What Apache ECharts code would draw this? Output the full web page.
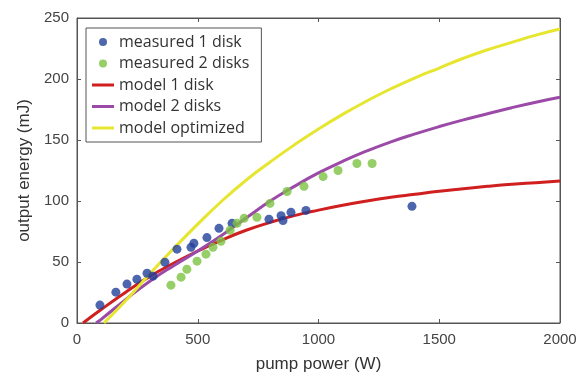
<!DOCTYPE html>
<html><head><meta charset="utf-8">
<script src="https://cdn.jsdelivr.net/npm/echarts@6/dist/echarts.min.js"></script>
<style>html,body{margin:0;padding:0;background:#fff}#c{width:583px;height:380px}</style>
</head><body><div id="c"></div>
<script>
const meas1X = [95,161,207,248,290,315,364,414,472,484,538,588,642,795,845,853,886,948,1387];
const meas1Y = [14.7,25.3,31.9,35.9,40.8,38.4,49.8,60.5,62,65.4,70,77.6,81.7,85,88,84,90.7,92.3,95.6];
const meas2X = [389,431,455,497,534,563,596,634,663,692,745,799,870,940,1019,1081,1159,1222];
const meas2Y = [31,37.6,44.1,50.7,56.4,62.1,67,76,81.7,85.8,86.6,98,107.8,112,120,125,130.7,130.7];
const model1X = [25,100,200,300,400,500,600,700,800,900,1000,1100,1200,1300,1400,1500,1600,1700,1800,1900,2000];
const model1Y = [0,11,25,38,49,59,68,76,82.5,88,92.5,96.5,100,103,105.5,108,110,112,113.7,115,116.3];
const model2X = [79,100,200,300,400,500,600,700,800,900,1000,1100,1200,1300,1400,1500,1600,1700,1800,1900,2000];
const model2Y = [0,3,19,34,47,59,72,86,100,112,123,132.5,141,148.5,155,161,166.5,171.5,176.5,181,185];
const modelOX = [112,200,300,400,500,600,700,800,900,1000,1100,1200,1300,1400,1500,1600,1700,1800,1900,2000];
const modelOY = [0,18,40,61,81,100,117,132,146,159,171,182,192,201,209,217,224,230,236,241];
const xTicks = [0,500,1000,1500,2000];
const yTicks = [0,50,100,150,200,250];
const names = ['measured 1 disk','measured 2 disks','model 1 disk','model 2 disks','model optimized'];

const zip = (a,b)=>a.map((v,i)=>[v,b[i]]);
const chart = echarts.init(document.getElementById('c'));
const axCol = '#555';
const xMin = xTicks[0], xMax = xTicks[xTicks.length-1], yMin = yTicks[0], yMax = yTicks[yTicks.length-1];
const gridL = 77, gridR = 23, gridT = 18, gridB = 57;
// tick length (4 px) expressed in data units of each axis
const dxTick = (xMax - xMin) * 4 / (583 - gridL - gridR);
const dyTick = (yMax - yMin) * 4 / (380 - gridT - gridB);
const frameLines = [
  [{coord:[xMin, yMax]}, {coord:[xMax, yMax]}],
  [{coord:[xMax, yMin]}, {coord:[xMax, yMax]}]
];
xTicks.slice(1,-1).forEach(t => frameLines.push([{coord:[t, yMax]}, {coord:[t, yMax - dyTick]}]));
yTicks.slice(1,-1).forEach(t => frameLines.push([{coord:[xMax, t]}, {coord:[xMax - dxTick, t]}]));

const tickFont = {fontFamily:'Liberation Sans', fontSize:15, color:'#444', formatter:v=>String(v)};
const lineIcon = 'path://M0,0L22,0L22,3L0,3Z';
chart.setOption({
  animation:false,
  grid:{left:gridL,right:gridR,top:gridT,bottom:gridB,show:true,borderColor:axCol,borderWidth:1},
  xAxis:{type:'value', min:xMin, max:xMax, interval:500, position:'bottom',
    axisLine:{show:true,onZero:false,lineStyle:{color:axCol,width:1}},
    axisTick:{show:true,inside:true,length:4,lineStyle:{color:axCol}}, splitLine:{show:false},
    name:'pump power (W)', nameLocation:'middle', nameGap:33,
    nameTextStyle:{fontFamily:'Liberation Sans', fontSize:17, color:'#333'},
    axisLabel:Object.assign({margin:9}, tickFont)},
  yAxis:{type:'value', min:yMin, max:yMax, interval:50, position:'left',
    axisLine:{show:true,onZero:false,lineStyle:{color:axCol,width:1}},
    axisTick:{show:true,inside:true,length:4,lineStyle:{color:axCol}}, splitLine:{show:false},
    name:'output energy (mJ)', nameLocation:'middle', nameGap:44,
    nameTextStyle:{fontFamily:'Liberation Sans', fontSize:17, color:'#333'},
    axisLabel:Object.assign({margin:8}, tickFont)},
  legend:{
    orient:'vertical', left:86, top:28, padding:[6,12,6,6],
    borderColor:'#555', borderWidth:1, backgroundColor:'#fff',
    itemWidth:22, itemHeight:8, itemGap:5.5,
    textStyle:{fontFamily:'Open Sans', fontSize:16, color:'#333', lineHeight:16},
    data:[{name:names[0],icon:'circle'},{name:names[1],icon:'circle'},
      {name:names[2],icon:lineIcon},{name:names[3],icon:lineIcon},{name:names[4],icon:lineIcon}]
  },
  series:[
    {name:names[2], type:'line', data:zip(model1X,model1Y), smooth:true, showSymbol:false, symbol:'none',
      clip:false, lineStyle:{color:'#d01f1f', width:3}, itemStyle:{color:'#d01f1f'}, z:2,
      markLine:{silent:true, symbol:['none','none'], label:{show:false}, animation:false,
        lineStyle:{color:axCol, width:1, type:'solid'}, emphasis:{disabled:true}, data:frameLines}},
    {name:names[3], type:'line', data:zip(model2X,model2Y), smooth:true, showSymbol:false, symbol:'none',
      lineStyle:{color:'#9c4aa8', width:3}, itemStyle:{color:'#9c4aa8'}, z:2},
    {name:names[4], type:'line', data:zip(modelOX,modelOY), smooth:true, showSymbol:false, symbol:'none',
      lineStyle:{color:'#e6e630', width:3}, itemStyle:{color:'#e6e630'}, z:2},
    {name:names[0], type:'scatter', data:zip(meas1X,meas1Y), symbolSize:9, itemStyle:{color:'#21409a'}, z:3},
    {name:names[1], type:'scatter', data:zip(meas2X,meas2Y), symbolSize:9, itemStyle:{color:'#7cc242'}, z:3}
  ]
});
</script></body></html>
